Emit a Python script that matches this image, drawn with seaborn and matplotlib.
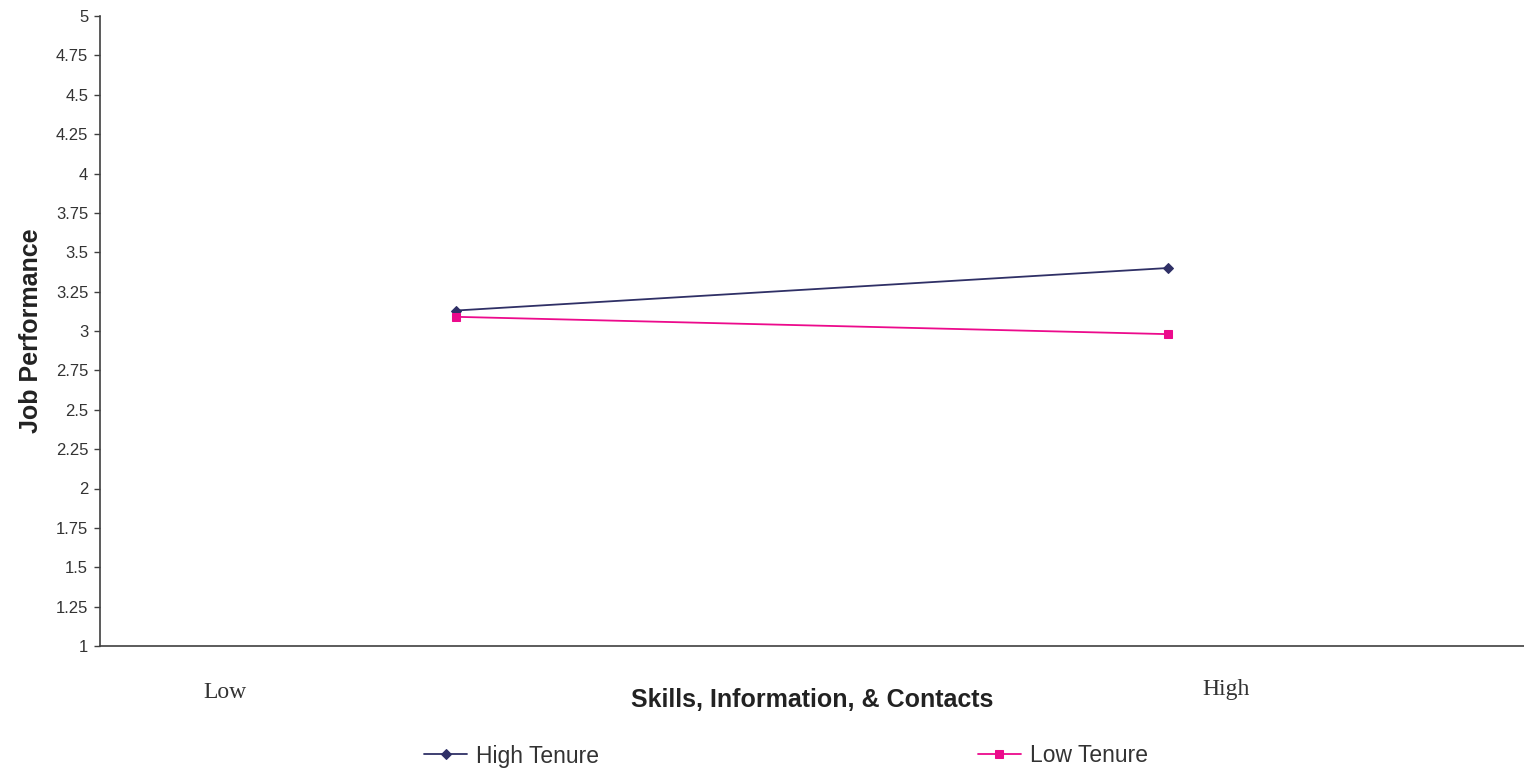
import matplotlib
matplotlib.use("Agg")
import matplotlib.pyplot as plt
import seaborn as sns
import pandas as pd
from matplotlib.ticker import FormatStrFormatter

# ---- data ----
x_levels = ["Low", "High"]
high_tenure = [3.13, 3.40]
low_tenure = [3.09, 2.98]
series_names = ["High Tenure", "Low Tenure"]
y_ticks = [1, 1.25, 1.5, 1.75, 2, 2.25, 2.5, 2.75, 3, 3.25, 3.5, 3.75, 4, 4.25, 4.5, 4.75, 5]

df = pd.DataFrame({
    "pos": list(range(len(x_levels))) * 2,
    "level": x_levels * 2,
    "value": high_tenure + low_tenure,
    "series": [series_names[0]] * len(x_levels) + [series_names[1]] * len(x_levels),
})

sns.set_style("white")
plt.rcParams["font.family"] = ["Liberation Sans", "DejaVu Sans"]

fig = plt.figure(figsize=(15.24, 7.73), dpi=100)
ax = fig.add_axes([100 / 1524, 1 - 646 / 773, 1424 / 1524, 630 / 773])

palette = {"High Tenure": "#2F3066", "Low Tenure": "#EC0A8C"}
markers = {"High Tenure": "D", "Low Tenure": "s"}
sizes_map = {"High Tenure": 6.3, "Low Tenure": 7.0}

for name in series_names:
    sub = df[df["series"] == name]
    sns.lineplot(data=sub, x="pos", y="value", ax=ax, color=palette[name],
                 marker=markers[name], markersize=sizes_map[name],
                 markeredgecolor=palette[name], linewidth=1.3, label=name)

ax.set_xlim(-0.5, len(x_levels) - 0.5)
ax.set_ylim(1, 5)
ax.set_yticks(y_ticks)
ax.yaxis.set_major_formatter(FormatStrFormatter("%g"))
ax.set_xticks([])

for s in ["top", "right"]:
    ax.spines[s].set_visible(False)
for s in ["left", "bottom"]:
    ax.spines[s].set_color("#404040")
    ax.spines[s].set_linewidth(1.2)

ax.tick_params(axis="y", left=True, length=4.5, width=1, color="#404040",
               labelsize=12, labelcolor="#333333", pad=4)

ax.set_ylabel("Job Performance", fontsize=18, fontweight="bold", color="#222222", labelpad=9)
ax.set_xlabel("Skills, Information, & Contacts", fontsize=18, fontweight="bold",
              color="#222222", labelpad=30)

# Low / High endpoint labels (serif)
fig.text(225 / 1524, 1 - 692 / 773, x_levels[0], family="Liberation Serif",
         fontsize=17, color="#333333", ha="center", va="center")
fig.text(1226 / 1524, 1 - 690 / 773, x_levels[1], family="Liberation Serif",
         fontsize=17, color="#333333", ha="center", va="center")

if ax.legend_:
    ax.legend_.remove()
handles, labels = ax.get_legend_handles_labels()
for h in handles:
    h.set_markersize(h.get_markersize() * 0.75)
fig.legend(handles, labels, loc="center", bbox_to_anchor=(786 / 1524, 1 - 756 / 773),
           ncol=2, frameon=False, fontsize=16.5, handlelength=1.9, handletextpad=0.4,
           columnspacing=16.5, labelcolor="#333333")

fig.savefig("out.png", dpi=100, facecolor="white")
